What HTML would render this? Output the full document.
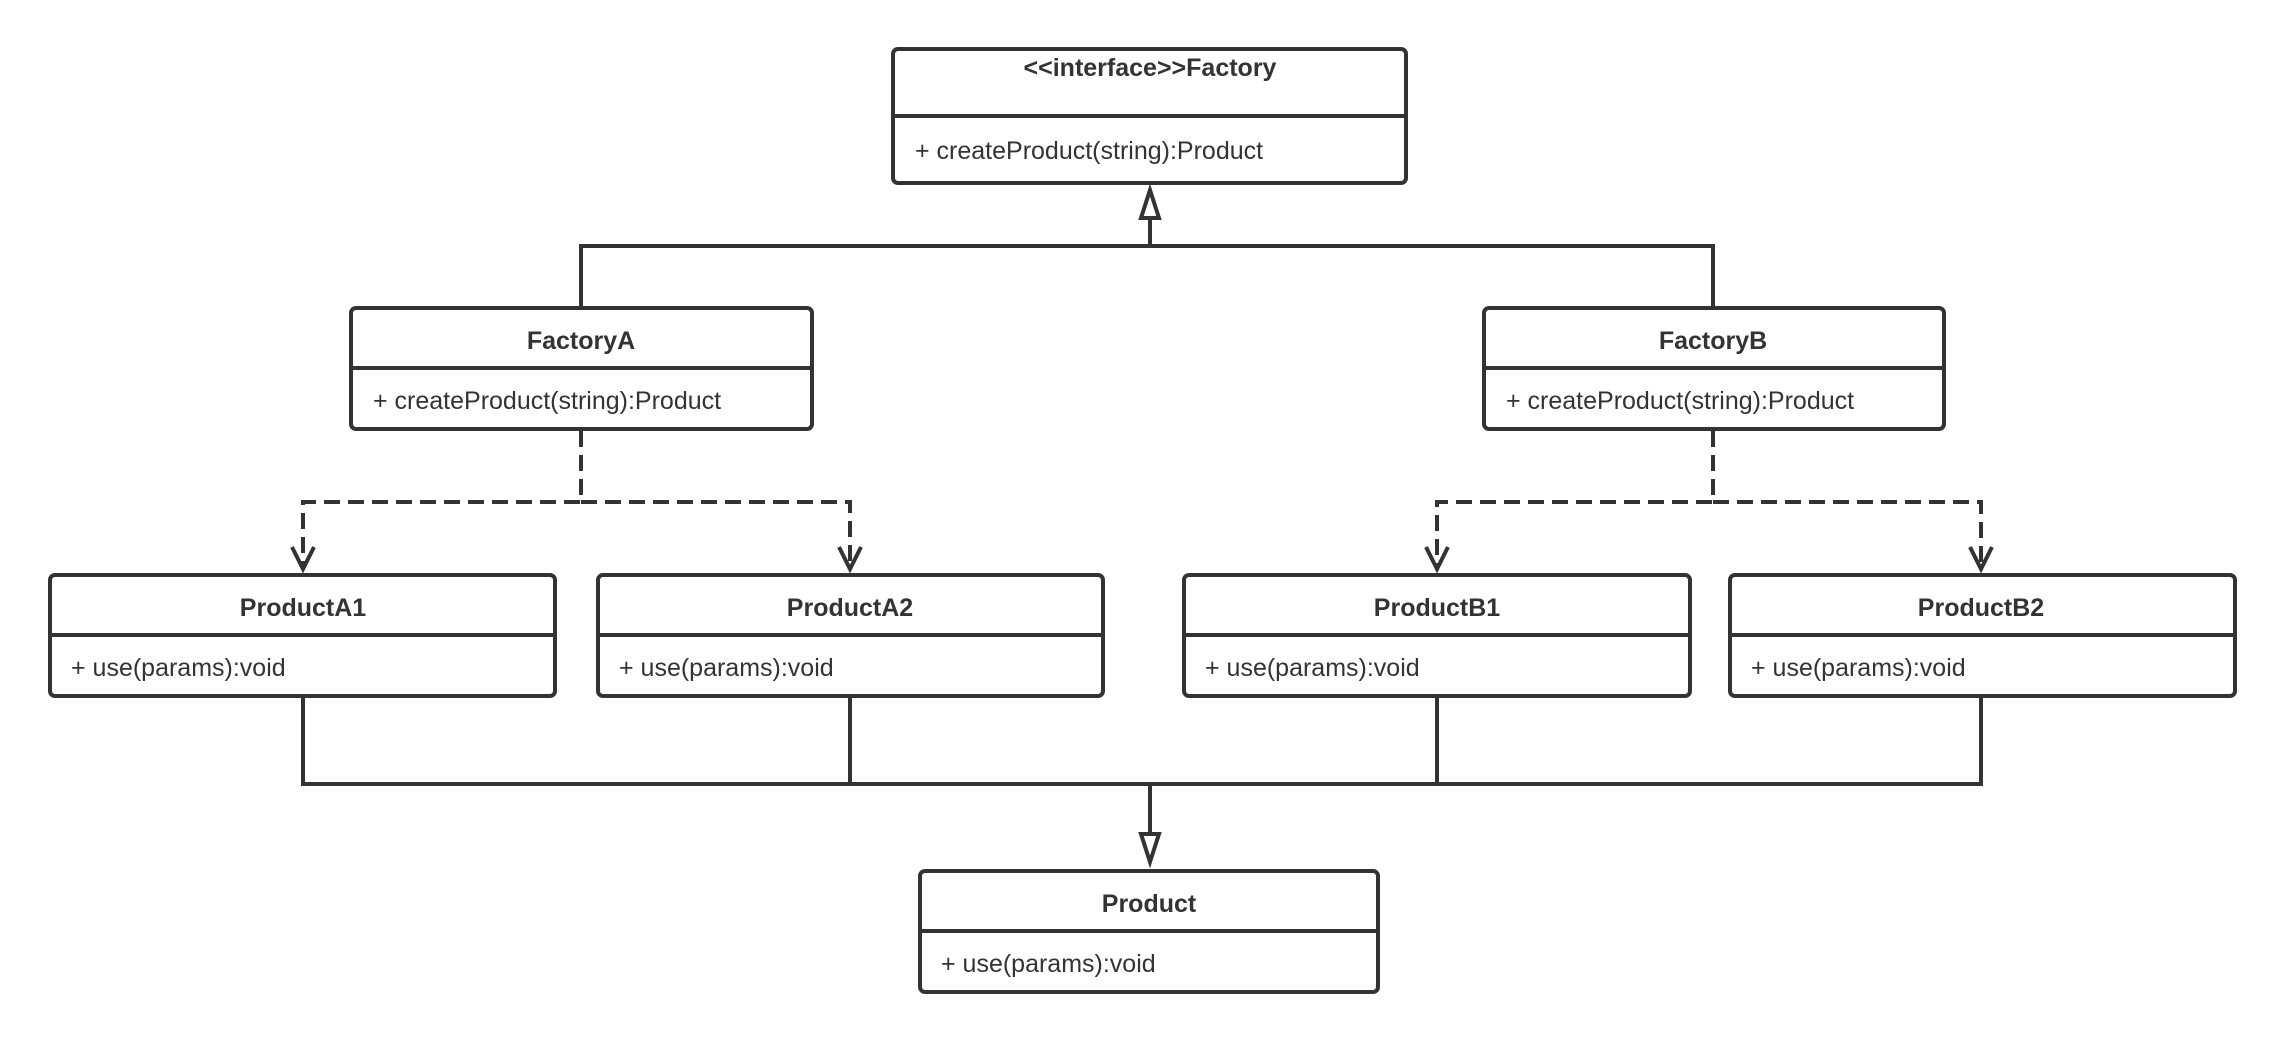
<!DOCTYPE html>
<html><head><meta charset="utf-8"><style>
html,body{margin:0;padding:0;background:#fff;}
svg{display:block;}
text{font-family:"Liberation Sans","Noto Sans CJK SC",sans-serif;fill:#333;font-size:25px;}
.t{font-weight:bold;text-anchor:middle;}
</style></head><body>
<svg width="2285" height="1042" viewBox="0 0 2285 1042" xmlns="http://www.w3.org/2000/svg">
<g fill="none" stroke="#333" stroke-width="4">
<polyline points="581,308 581,246 1713,246 1713,308"/>
<line x1="1150" y1="246" x2="1150" y2="218"/>
<polygon points="1150,190 1141,218 1159,218" fill="#fff"/>
<g stroke-dasharray="16,8">
<polyline points="581,431 581,502 303,502 303,566"/>
<polyline points="581,502 850,502 850,566"/>
<polyline points="1713,431 1713,502 1437,502 1437,566"/>
<polyline points="1713,502 1981,502 1981,566"/>
</g>
<polyline points="292,547 303,569 314,547"/>
<polyline points="839,547 850,569 861,547"/>
<polyline points="1426,547 1437,569 1448,547"/>
<polyline points="1970,547 1981,569 1992,547"/>
<polyline points="303,697 303,784 1981,784 1981,697"/>
<line x1="850" y1="697" x2="850" y2="784"/>
<line x1="1437" y1="697" x2="1437" y2="784"/>
<line x1="1150" y1="784" x2="1150" y2="834"/>
<polygon points="1150,862 1141,834 1159,834" fill="#fff"/>
<rect x="893" y="49" width="513" height="134" rx="5"/><line x1="893" y1="116" x2="1406" y2="116"/>
<rect x="351" y="308" width="461" height="121" rx="5"/><line x1="351" y1="368" x2="812" y2="368"/>
<rect x="1484" y="308" width="460" height="121" rx="5"/><line x1="1484" y1="368" x2="1944" y2="368"/>
<rect x="50" y="575" width="505" height="121" rx="5"/><line x1="50" y1="635" x2="555" y2="635"/>
<rect x="598" y="575" width="505" height="121" rx="5"/><line x1="598" y1="635" x2="1103" y2="635"/>
<rect x="1184" y="575" width="506" height="121" rx="5"/><line x1="1184" y1="635" x2="1690" y2="635"/>
<rect x="1730" y="575" width="505" height="121" rx="5"/><line x1="1730" y1="635" x2="2235" y2="635"/>
<rect x="920" y="871" width="458" height="121" rx="5"/><line x1="920" y1="931" x2="1378" y2="931"/>
</g>
<text class="t" x="1150" y="76">&lt;&lt;interface&gt;&gt;Factory</text>
<text x="915" y="159">+ createProduct(string):Product</text>
<text class="t" x="581" y="349">FactoryA</text>
<text x="373" y="409">+ createProduct(string):Product</text>
<text class="t" x="1713" y="349">FactoryB</text>
<text x="1506" y="409">+ createProduct(string):Product</text>
<text class="t" x="303" y="616">ProductA1</text>
<text x="71" y="676">+ use(params):void</text>
<text class="t" x="850" y="616">ProductA2</text>
<text x="619" y="676">+ use(params):void</text>
<text class="t" x="1437" y="616">ProductB1</text>
<text x="1205" y="676">+ use(params):void</text>
<text class="t" x="1981" y="616">ProductB2</text>
<text x="1751" y="676">+ use(params):void</text>
<text class="t" x="1149" y="912">Product</text>
<text x="941" y="972">+ use(params):void</text>
</svg>
</body></html>
